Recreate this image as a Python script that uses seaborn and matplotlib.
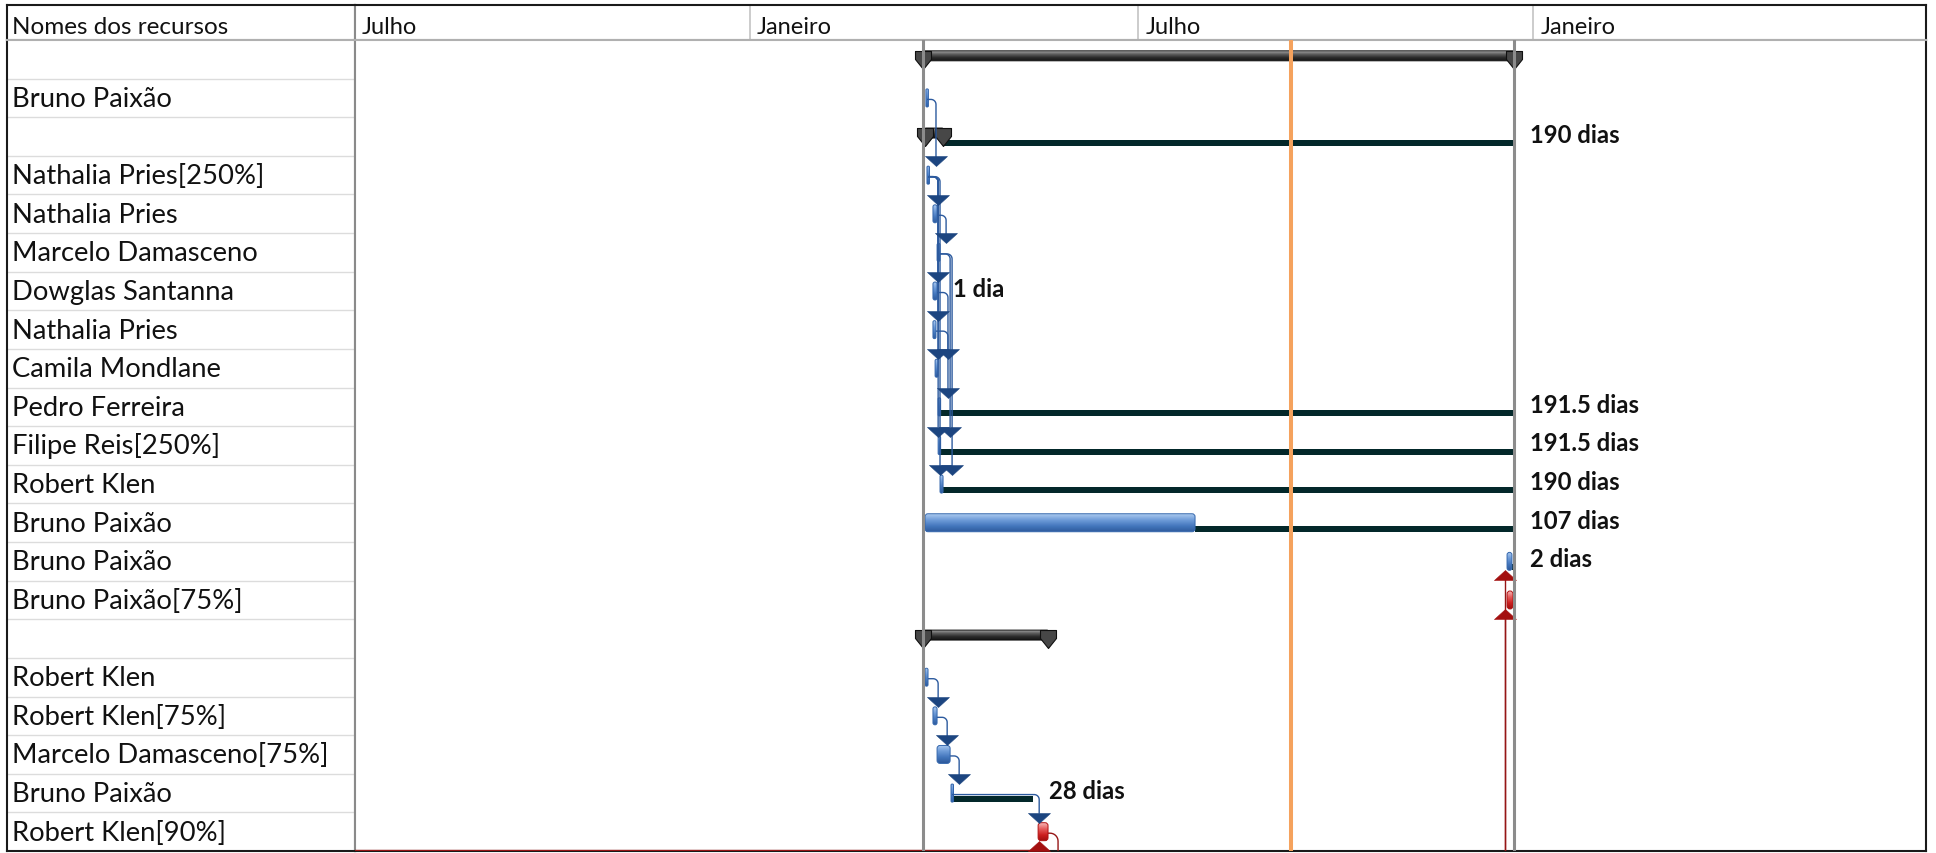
import matplotlib
matplotlib.use("Agg")
import matplotlib.pyplot as plt
import matplotlib.dates as mdates
import matplotlib.transforms as mtransforms
from matplotlib.patches import FancyBboxPatch
import numpy as np
import pandas as pd
import seaborn as sns

W, H = 1936, 854

# ---- dados ----
resource_names = ["", "Bruno Paixão", "", "Nathalia Pries[250%]", "Nathalia Pries",
                  "Marcelo Damasceno", "Dowglas Santanna", "Nathalia Pries", "Camila Mondlane",
                  "Pedro Ferreira", "Filipe Reis[250%]", "Robert Klen", "Bruno Paixão",
                  "Bruno Paixão", "Bruno Paixão[75%]", "", "Robert Klen", "Robert Klen[75%]",
                  "Marcelo Damasceno[75%]", "Bruno Paixão", "Robert Klen[90%]"]
row_kind = ["summary", "mark", "summary", "mark", "task", "task", "task", "task", "task",
            "mark", "mark", "task", "task", "task", "critical", "summary", "task", "task",
            "task", "mark", "critical"]
task_start = ["2023-03-22 16:00", "2023-03-24 00:00", "2023-03-23 14:00", "2023-03-24 12:00",
              "2023-03-27 07:00", "2023-03-29 05:00", "2023-03-27 07:00", "2023-03-27 07:00",
              "2023-03-28 07:00", "2023-03-29 17:00", "2023-03-29 17:00", "2023-03-30 14:00",
              "2023-03-23 14:00", "2023-12-19 19:00", "2023-12-19 19:00", "2023-03-22 16:00",
              "2023-03-23 14:00", "2023-03-27 07:00", "2023-03-29 05:00", "2023-04-04 17:00",
              "2023-05-15 07:00"]
task_finish = ["2023-12-23 00:00", "2023-03-24 12:00", "2023-04-01 00:00", "2023-03-25 00:00",
               "2023-03-29 05:00", "2023-03-30 14:00", "2023-03-29 05:00", "2023-03-28 17:00",
               "2023-03-29 17:00", "2023-03-30 05:00", "2023-03-30 05:00", "2023-04-01 00:00",
               "2023-07-27 10:00", "2023-12-22 02:00", "2023-12-22 14:00", "2023-05-19 22:00",
               "2023-03-25 00:00", "2023-03-29 05:00", "2023-04-04 07:00", "2023-04-05 05:00",
               "2023-05-19 22:00"]
slack_finish = [None, None, "2023-12-23", None, None, None, None, None, None,
                "2023-12-23", "2023-12-23", "2023-12-23", "2023-12-23", "2023-12-23",
                None, None, None, None, None, "2023-05-12 22:00", None]
duration_labels = ["", "", "190 dias", "", "", "", "1 dia", "", "", "191.5 dias",
                   "191.5 dias", "190 dias", "107 dias", "2 dias", "", "", "", "", "",
                   "28 dias", ""]

# vínculos: (origem, destino, posição da curva)
links = [(1, 3, "2023-03-28 17:00"), (3, 4, "2023-03-29 17:00"), (4, 5, "2023-04-02 10:00"),
         (3, 6, "2023-03-29 17:00"), (3, 7, "2023-03-29 17:00"), (3, 8, "2023-03-29 17:00"),
         (6, 8, "2023-04-03 07:00"), (7, 9, "2023-04-03 07:00"), (3, 10, "2023-03-29 17:00"),
         (5, 10, "2023-04-04 07:00"), (3, 11, "2023-03-30 14:00"), (5, 11, "2023-04-05 05:00"),
         (16, 17, "2023-03-29 17:00"), (17, 18, "2023-04-02 22:00"), (18, 19, "2023-04-08 12:00"),
         (19, 20, "2023-05-15 19:00")]
red_in_links = [(13, "2023-12-18 22:00"), (14, "2023-12-18 22:00"), (20, "2023-05-15 19:00")]
red_out_links = [(20, "2023-05-24 14:00")]

project_start = "2023-03-22 16:00"
project_finish = "2023-12-23 00:00"
status_date = "2023-09-10 05:00"
timeline_start, timeline_end = "2022-07-01", "2024-07-02"
header_ticks = ["2022-07-01", "2023-01-01", "2023-07-01", "2024-01-01"]
header_labels = ["Julho", "Janeiro", "Julho", "Janeiro"]

sns.set_theme(style="white")
plt.rcParams["font.family"] = ["Lato", "DejaVu Sans"]


def num(s):
    return mdates.date2num(pd.Timestamp(s))


n_rows = len(resource_names)
fig = plt.figure(figsize=(W / 100, H / 100), dpi=100)


def frame(x0, y0, x1, y1):
    return [x0 / W, 1 - y1 / H, (x1 - x0) / W, (y1 - y0) / H]


ax_hname = fig.add_axes(frame(7, 6, 355, 41))
ax_htime = fig.add_axes(frame(355, 6, 1926, 41))
ax_names = fig.add_axes(frame(7, 41, 355, 852))
ax = fig.add_axes(frame(355, 41, 1926, 852))

OUTER, INNER, GRID = "#1a1a1a", "#8a8a8a", "#b0b0b0"
spine_cols = {
    ax_hname: dict(top=OUTER, left=OUTER, right=INNER, bottom=GRID),
    ax_htime: dict(top=OUTER, right=OUTER, left=INNER, bottom=GRID),
    ax_names: dict(bottom=OUTER, left=OUTER, right=INNER, top=GRID),
    ax: dict(bottom=OUTER, right=OUTER, left=INNER, top=GRID),
}
for a, cols in spine_cols.items():
    a.set_xticks([])
    a.set_yticks([])
    a.set_facecolor("white")
    for side, c in cols.items():
        a.spines[side].set_visible(True)
        a.spines[side].set_color(c)
        a.spines[side].set_linewidth(1.5)

# ---- cabeçalhos ----
ax_hname.text(5 / 348, 0.2, "Nomes dos recursos", fontsize=17.5, va="baseline",
              transform=ax_hname.transAxes, color="#111111")

tl0, tl1 = num(timeline_start), num(timeline_end)
ax_htime.set_xlim(tl0, tl1)
ax_htime.set_ylim(0, 1)
htrans = mtransforms.offset_copy(ax_htime.get_xaxis_transform(), fig, x=7, y=0, units="dots")
for t, lab in zip(header_ticks, header_labels):
    if num(t) > tl0:
        ax_htime.axvline(num(t), color="#c4c4c4", lw=1.2)
    ax_htime.text(num(t), 0.2, lab, fontsize=17, transform=htrans, va="baseline",
                  color="#111111")

# ---- tabela de nomes ----
ax_names.set_xlim(0, 1)
ax_names.set_ylim(n_rows, 0)
ax_names.hlines(np.arange(1, n_rows), 0, 1, color="#dcdcdc", lw=1)
ppr = ax.get_position().height * H / n_rows
ntrans = mtransforms.offset_copy(ax_names.get_yaxis_transform(), fig, x=5, y=0, units="dots")
for r, name in enumerate(resource_names):
    ax_names.text(0, r + 0.5 + 8 / ppr, name, fontsize=19.7, va="baseline",
                  transform=ntrans, color="#111111")

# ---- gantt ----
ax.set_xlim(tl0, tl1)
ax.set_ylim(n_rows, 0)
ax.set_autoscale_on(False)
ppd = ax.get_position().width * W / (tl1 - tl0)


def dx(px):
    return px / ppd


def dy(px):
    return px / ppr


BLUE = ["#a9c8ee", "#6e9bd8", "#4477bd", "#2d5a9c"]
MARK = ["#8fb4e6", "#4f83cc", "#2f62aa"]
RED = ["#f6b3b3", "#e55a5a", "#cc1f1f", "#a00d0d"]
GREY = ["#a0a0a0", "#5a5a5a", "#2a2a2a", "#151515"]
SLACK = "#03282a"
LINK = "#2c5a9e"
ARROW = "#1c4580"
REDLINK = "#961616"


def gradient_box(x0, x1, yc, h_px, colors, edge, radius_px, z):
    y0, y1 = yc - dy(h_px) / 2, yc + dy(h_px) / 2
    w = x1 - x0
    asp = ppd / ppr
    r = min(dx(radius_px), w / 2, (y1 - y0) / asp / 2)
    patch = FancyBboxPatch((x0, y0), w, y1 - y0,
                           boxstyle=f"round,pad=0,rounding_size={r}",
                           mutation_aspect=asp, fc="none", ec=edge, lw=0.7, zorder=z + 0.1)
    ax.add_patch(patch)
    cmap = sns.blend_palette(colors, as_cmap=True)
    im = ax.imshow(np.linspace(0, 1, 60).reshape(-1, 1), extent=(x0, x1, y1, y0), cmap=cmap,
                   aspect="auto", interpolation="bilinear", origin="upper", zorder=z)
    im.set_clip_path(patch)


down_arrow = [(-11, 10), (11, 10), (0, 0), (-11, 10)]
up_arrow = [(-11, -10), (11, -10), (0, 0), (-11, -10)]
summary_cap = [(-8, 0), (8, 0), (8, -8), (0, -18), (-8, -8), (-8, 0)]

starts = [num(s) for s in task_start]
finishes = [num(s) for s in task_finish]

for r in range(n_rows):
    c = r + 0.5
    s, f = starts[r], finishes[r]
    if slack_finish[r] is not None:
        ax.add_patch(plt.Rectangle((f, c + dy(3)), num(slack_finish[r]) - f, dy(6),
                                   fc=SLACK, ec="none", zorder=2))
    kind = row_kind[r]
    if kind == "summary":
        top = c - dy(8.5)
        gradient_box(s, f, top + dy(5), 10, GREY, "#111111", 1, 3)
        ax.plot([s, f], [top, top], ls="none", marker=summary_cap, markersize=25.9,
                mfc="#474747", mec="#101010", mew=0.8, zorder=4)
    elif kind == "mark":
        gradient_box(s, max(f, s + dx(2.5)), c, 18, MARK, "#2f62aa", 1, 3)
    elif kind == "critical":
        gradient_box(s, f, c, 18, RED, "#b01010", 3, 3)
    else:
        gradient_box(s, f, c, 18, BLUE, "#3467ad", 3, 3)


def elbow_line(x_from, y_from, x_elbow, y_to, color, r_px=5):
    r = min(r_px, (x_elbow - x_from) * ppd)
    t = np.linspace(0, np.pi / 2, 10)
    cx, cy = x_elbow - dx(r), y_from + dy(r)
    xs = np.r_[x_from, cx + dx(r) * np.sin(t), x_elbow]
    ys = np.r_[y_from, cy - dy(r) * np.cos(t), y_to]
    ax.plot(xs, ys, color=color, lw=1.0, zorder=4, solid_capstyle="butt")


for src, dst, el in links:
    xe = num(el)
    tip = dst + 0.5 - dy(9)
    elbow_line(finishes[src], src + 0.5 + dy(1.5), xe, tip - dy(9), LINK)
    ax.plot([xe], [tip], ls="none", marker=down_arrow, markersize=15.8, mfc=ARROW,
            mec=ARROW, mew=0.4, zorder=5)

for src, el in red_out_links:
    elbow_line(finishes[src], src + 0.5 + dy(1.5), num(el), n_rows, REDLINK, r_px=8)

for dst, el in red_in_links:
    xe = num(el)
    tip = dst + 0.5 + dy(9)
    ax.plot([xe, xe], [n_rows, tip + dy(9)], color=REDLINK, lw=1.0, zorder=4)
    ax.plot([xe], [tip], ls="none", marker=up_arrow, markersize=15.8, mfc="#a30f0f",
            mec="#a30f0f", mew=0.4, zorder=5)
# vínculo vermelho que corre pela borda inferior
ax.plot([tl0, num(red_in_links[-1][1])], [n_rows - dy(1.5)] * 2, color=REDLINK, lw=1.0,
        zorder=4)

# linhas verticais: início, fim e data de status
ax.axvline(num(project_start), color="#8c8c8c", lw=2.2, zorder=8)
ax.axvline(num(project_finish), color="#8c8c8c", lw=2.2, zorder=8)
ax.axvline(num(status_date), color="#f5a25d", lw=2.9, zorder=8)

ltrans = mtransforms.offset_copy(ax.transData, fig, x=16, y=0, units="dots")
for r, lab in enumerate(duration_labels):
    if not lab:
        continue
    anchor = num(slack_finish[r]) if slack_finish[r] is not None else finishes[r]
    ax.text(anchor, r + 0.5 + dy(5), lab, transform=ltrans, fontsize=17.2, fontweight="bold",
            va="baseline", color="#111111", zorder=9)

ax.set_xlim(tl0, tl1)
ax.set_ylim(n_rows, 0)
fig.savefig("out.png", dpi=100)
